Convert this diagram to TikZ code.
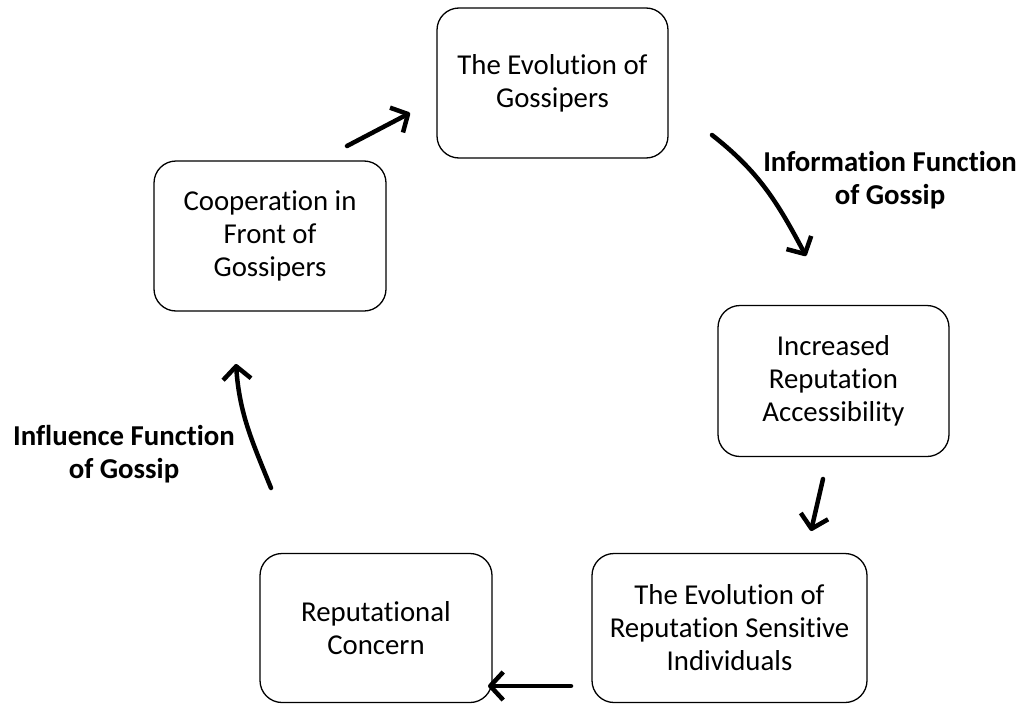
\documentclass[tikz,border=0pt]{standalone}
\usepackage{fontspec}
\setmainfont[Ligatures=NoCommon]{Carlito}
\usetikzlibrary{arrows.meta}
\begin{document}
\begin{tikzpicture}[x=1pt,y=-1pt,
  box/.style={draw=black,line width=1.3pt,rounded corners=22pt,align=center,
    font=\fontsize{28.8}{33}\selectfont,inner sep=0pt},
  conn/.style={line width=4.5pt,line cap=round,
    -{Straight Barb[length=13pt,width=28pt,line join=round]}},
  lbl/.style={align=center,font=\fontsize{28.8}{33}\selectfont\bfseries}]
\useasboundingbox (0,0) rectangle (1025,704);
\node[box,minimum width=231pt,minimum height=150pt] (top) at (552.5,83) {The Evolution of\\Gossipers};
\node[box,minimum width=232pt,minimum height=150pt] (coop) at (270,236) {Cooperation in\\Front of\\Gossipers};
\node[box,minimum width=231pt,minimum height=151pt] (inc) at (833.5,381) {Increased\\Reputation\\Accessibility};
\node[box,minimum width=275pt,minimum height=149pt] (evo) at (729.5,628) {The Evolution of\\Reputation Sensitive\\Individuals};
\node[box,minimum width=232pt,minimum height=149pt] (rep) at (376,628) {Reputational\\Concern};
\coordinate (a1s) at (347,146);
\coordinate (a1e) at (410,113);
\coordinate (a2s) at (712,135);
\coordinate (a2e) at (806,256);
\coordinate (a3s) at (823,479);
\coordinate (a3e) at (811,531);
\coordinate (a4s) at (571,686);
\coordinate (a4e) at (488,686);
\coordinate (a5s) at (271,488);
\coordinate (a5e) at (236,364);
\draw[conn] (a1s) -- (a1e);
\draw[conn] (a2s) to[out=-38,in=118] (a2e);
\draw[conn] (a3s) -- (a3e);
\draw[conn] (a4s) -- (a4e);
\draw[conn] (a5s) to[out=112,in=-86] (a5e);
\node[lbl] (info) at (890,180) {Information Function\\of Gossip};
\node[lbl] (infl) at (124,454) {Influence Function\\of Gossip};
\end{tikzpicture}
\end{document}
